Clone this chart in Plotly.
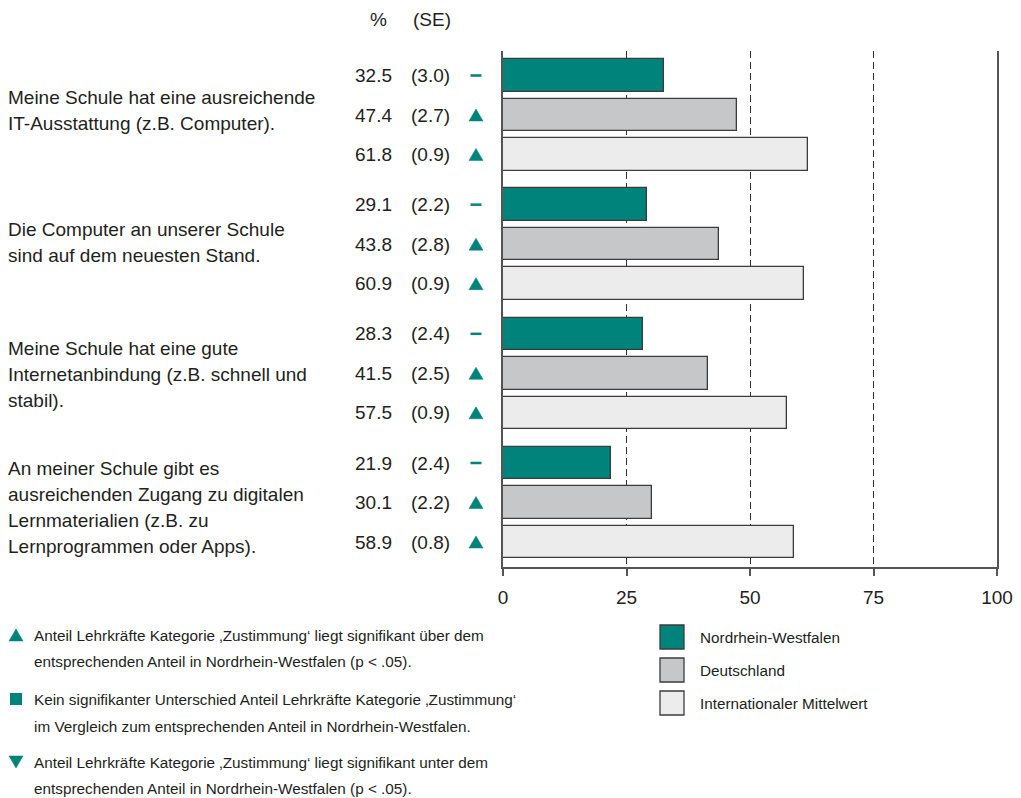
import plotly.graph_objects as go

# ---------------- data ----------------
items = [
    ["Meine Schule hat eine ausreichende", "IT-Ausstattung (z.B. Computer)."],
    ["Die Computer an unserer Schule", "sind auf dem neuesten Stand."],
    ["Meine Schule hat eine gute", "Internetanbindung (z.B. schnell und", "stabil)."],
    ["An meiner Schule gibt es", "ausreichenden Zugang zu digitalen", "Lernmaterialien (z.B. zu", "Lernprogrammen oder Apps)."],
]
series = ["Nordrhein-Westfalen", "Deutschland", "Internationaler Mittelwert"]
nrw = [32.5, 29.1, 28.3, 21.9]
nrw_se = [3.0, 2.2, 2.4, 2.4]
de = [47.4, 43.8, 41.5, 30.1]
de_se = [2.7, 2.8, 2.5, 2.2]
intl = [61.8, 60.9, 57.5, 58.9]
intl_se = [0.9, 0.9, 0.9, 0.8]
sig_nrw = ["none", "none", "none", "none"]
sig_de = ["up", "up", "up", "up"]
sig_intl = ["up", "up", "up", "up"]
x_ticks = [0, 25, 50, 75, 100]
header = ["%", "(SE)"]
notes = [
    ("up", ["Anteil Lehrkräfte Kategorie ‚Zustimmung‘ liegt signifikant über dem",
            "entsprechenden Anteil in Nordrhein-Westfalen (p < .05)."]),
    ("square", ["Kein signifikanter Unterschied Anteil Lehrkräfte Kategorie ‚Zustimmung‘",
                "im Vergleich zum entsprechenden Anteil in Nordrhein-Westfalen."]),
    ("down", ["Anteil Lehrkräfte Kategorie ‚Zustimmung‘ liegt signifikant unter dem",
              "entsprechenden Anteil in Nordrhein-Westfalen (p < .05)."]),
]

# ---------------- style ----------------
TEAL = "#00837a"
GRAY = "#c6c7c9"
LIGHT = "#ececec"
EDGE = "#3c3c3c"
TXT = "#231f20"
FONT = "Liberation Sans, Arial, sans-serif"
colors = [TEAL, GRAY, LIGHT]

W, H = 1021, 798
PX0, PX1, PY0, PY1 = 503, 997, 51, 567  # plot area in window pixels
L, R, T, B = PX0, W - PX1, PY0, H - PY1
GROUP_STEP = 3.27
BAR_PX = 39.5
LABEL_SHIFT_PX = [-5, -2, 1.5, 4.5]  # vertical nudge of the category label blocks
y_bottom = (PY1 - 75.5) / BAR_PX
y_top = (PY0 - 75.5) / BAR_PX


def fx(px):  # window pixel x -> paper x
    return (px - PX0) / (PX1 - PX0)


def fy(py):  # window pixel y -> paper y
    return (PY1 - py) / (PY1 - PY0)


def ydata_to_paper(yv):
    return (y_bottom - yv) / (y_bottom - y_top)


fig = go.Figure()
vals = [nrw, de, intl]
ses = [nrw_se, de_se, intl_se]
sigs = [sig_nrw, sig_de, sig_intl]

for s in range(3):
    ypos = [g * GROUP_STEP + s for g in range(len(items))]
    fig.add_trace(go.Bar(
        x=vals[s], y=ypos, orientation="h", width=0.82,
        marker=dict(color=colors[s], line=dict(color=EDGE, width=1.3)),
        name=series[s], showlegend=False, hoverinfo="x",
    ))

shapes = []
ann = []
DXP = 1 / (PX1 - PX0)
DYP = 1 / (PY1 - PY0)


def tri(cx, cy, kind, w=14, h=12):
    hw, hh = w / 2 * DXP, h / 2 * DYP
    if kind == "up":
        p = f"M {cx-hw},{cy-hh} L {cx+hw},{cy-hh} L {cx},{cy+hh} Z"
    else:
        p = f"M {cx-hw},{cy+hh} L {cx+hw},{cy+hh} L {cx},{cy-hh} Z"
    return dict(type="path", xref="paper", yref="paper", path=p,
                fillcolor=TEAL, line=dict(color=TEAL, width=0.5))


def sym_shape(cx, cy, kind):
    if kind in ("up", "down"):
        return tri(cx, cy, kind)
    if kind == "square":
        return dict(type="rect", xref="paper", yref="paper",
                    x0=cx - 6 * DXP, x1=cx + 6 * DXP, y0=cy - 6 * DYP, y1=cy + 6 * DYP,
                    fillcolor=TEAL, line=dict(color=TEAL, width=0))
    return dict(type="line", xref="paper", yref="paper",
                x0=cx - 5.5 * DXP, x1=cx + 5.5 * DXP, y0=cy, y1=cy,
                line=dict(color=TEAL, width=2.5))


for s in range(3):
    for g in range(len(items)):
        yv = g * GROUP_STEP + s
        ann.append(dict(x=fx(373), y=yv, xref="paper", yref="y", text=f"{vals[s][g]:.1f}",
                        showarrow=False, xanchor="center", yanchor="middle",
                        font=dict(size=19, color=TXT)))
        ann.append(dict(x=fx(430), y=yv, xref="paper", yref="y", text=f"({ses[s][g]:.1f})",
                        showarrow=False, xanchor="center", yanchor="middle",
                        font=dict(size=19, color=TXT)))
        shapes.append(sym_shape(fx(476), ydata_to_paper(yv), sigs[s][g]))

ann.append(dict(x=fx(378), y=fy(20), xref="paper", yref="paper", text=header[0], showarrow=False,
                xanchor="center", yanchor="middle", font=dict(size=19, color=TXT)))
ann.append(dict(x=fx(432), y=fy(20), xref="paper", yref="paper", text=header[1], showarrow=False,
                xanchor="center", yanchor="middle", font=dict(size=19, color=TXT)))

LINE = 26 / BAR_PX
for g, lines in enumerate(items):
    center = g * GROUP_STEP + 1 + LABEL_SHIFT_PX[g] / BAR_PX
    n = len(lines)
    for i, line in enumerate(lines):
        yv = center + (i - (n - 1) / 2) * LINE
        ann.append(dict(x=fx(6), y=yv, xref="paper", yref="y", text=line, showarrow=False,
                        xanchor="left", yanchor="middle", font=dict(size=19, color=TXT)))

note_y = [635, 699, 762]
for (kind, lines), y0 in zip(notes, note_y):
    shapes.append(sym_shape(fx(16), fy(y0), kind))
    for i, line in enumerate(lines):
        ann.append(dict(x=fx(32), y=fy(y0 + i * 27), xref="paper", yref="paper", text=line,
                        showarrow=False, xanchor="left", yanchor="middle",
                        font=dict(size=15.3, color=TXT)))

leg_y = [637, 670, 703]
for s in range(3):
    shapes.append(dict(type="rect", xref="paper", yref="paper",
                       x0=fx(660), x1=fx(684), y0=fy(leg_y[s] + 12), y1=fy(leg_y[s] - 12),
                       fillcolor=colors[s], line=dict(color=EDGE, width=1.3)))
    ann.append(dict(x=fx(698), y=fy(leg_y[s]), xref="paper", yref="paper", text=series[s],
                    showarrow=False, xanchor="left", yanchor="middle",
                    font=dict(size=15.3, color=TXT)))

fig.update_layout(
    width=W, height=H, margin=dict(l=L, r=R, t=T, b=B, autoexpand=False),
    plot_bgcolor="white", paper_bgcolor="white",
    font=dict(family=FONT, color=TXT, size=19),
    annotations=ann, shapes=shapes, showlegend=False, bargap=0,
    xaxis=dict(range=[0, 100], tickvals=x_ticks, ticktext=[str(t) for t in x_ticks],
               showgrid=True, gridcolor="#333333", griddash="7px,4px", gridwidth=1.1,
               showline=True, linecolor="#555555", linewidth=2,
               ticks="outside", ticklen=7, tickcolor="#555555", tickwidth=1.5,
               ticklabelstandoff=5,
               tickfont=dict(size=19, color=TXT), zeroline=False, fixedrange=True),
    yaxis=dict(range=[y_bottom, y_top], showticklabels=False, showgrid=False,
               showline=True, linecolor="#555555", linewidth=2, mirror=True,
               zeroline=False, ticks="", fixedrange=True),
)

fig.write_html(
    "out.html",
    config={"displayModeBar": False},
    post_script="document.body.style.margin='0';document.body.style.overflow='hidden';",
)
